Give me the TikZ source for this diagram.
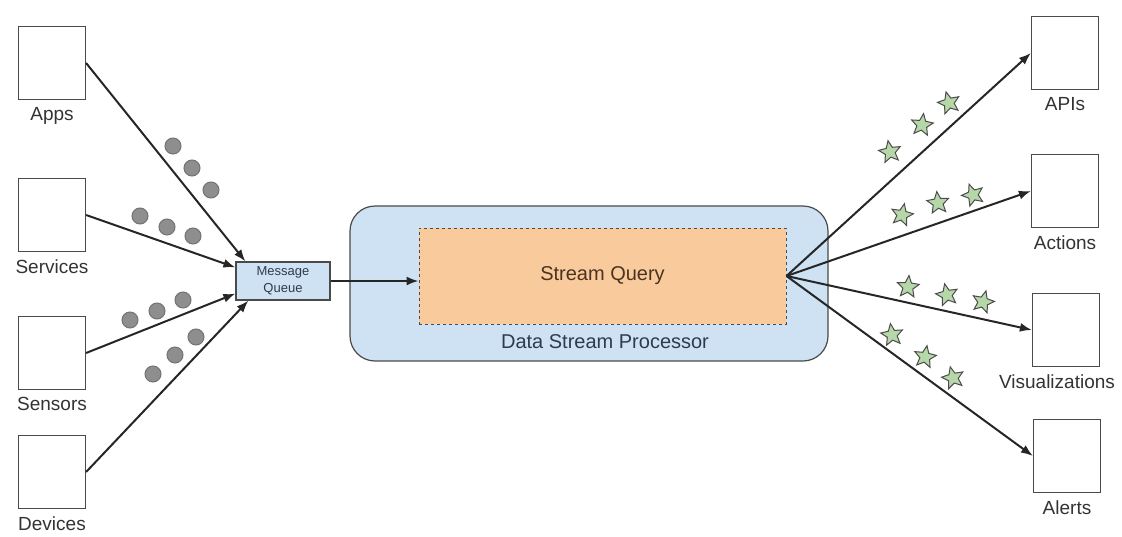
\documentclass[tikz,border=0pt]{standalone}
\usepackage{fontspec}
\setmainfont{Liberation Sans}
\usepackage{xcolor}
\usetikzlibrary{positioning,arrows.meta,calc,shapes.geometric}
\definecolor{ink}{HTML}{333333}
\definecolor{edge}{HTML}{4A4A4A}
\definecolor{dspfill}{HTML}{CFE2F3}
\definecolor{dspink}{HTML}{2E3B4E}
\definecolor{queryfill}{HTML}{F9CB9C}
\definecolor{queryink}{HTML}{4A3320}
\definecolor{dotfill}{HTML}{8E8E8E}
\definecolor{starfill}{HTML}{B6D7A8}

\tikzset{
  srcbox/.style={draw=edge,line width=1.2pt,fill=white,minimum width=67pt,minimum height=73pt,inner sep=0pt},
  tag/.style={text=ink,font=\fontsize{19}{22}\selectfont,inner sep=1pt,label distance=6pt},
  arr/.style={line width=2pt,draw=black!85,-{Latex[length=12pt,width=9pt]}},
  dotmark/.style={circle,draw=black!55,line width=1pt,fill=dotfill,minimum size=16pt,inner sep=0pt},
  starmark/.style={star,star points=5,star point ratio=2.2,draw=black!70,line width=1pt,fill=starfill,minimum size=23pt,inner sep=0pt}
}

\begin{document}
\begin{tikzpicture}[x=1pt,y=-1pt,every node/.style={font=\fontsize{20}{24}\selectfont}]
  \useasboundingbox (0,0) rectangle (1122,536);
  % sources
  \node[srcbox,label={[tag]below:Apps}] (apps) at (52,63) {};
  \node[srcbox,label={[tag]below:Services}] (services) at (52,215) {};
  \node[srcbox,label={[tag]below:Sensors}] (sensors) at (52,353) {};
  \node[srcbox,label={[tag]below:Devices}] (devices) at (52,472) {};
  % queue
  \node[draw=edge,line width=1.2pt,fill=dspfill,minimum width=94pt,minimum height=38pt,inner sep=0pt,
        align=center,text=dspink,font=\fontsize{13}{17}\selectfont] (mq) at (283,281) {Message\\Queue};
  % processor
  \node[draw=edge,line width=1.2pt,fill=dspfill,rounded corners=25pt,minimum width=478pt,minimum height=155pt] (dsp) at (589,283.5) {};
  \node[draw=black!70,dashed,line width=1pt,fill=queryfill,minimum width=367pt,minimum height=96pt,text=queryink] (query) at (602.5,276) {Stream Query};
  \node[text=dspink] (dsplabel) at (605,342) {Data Stream Processor};
  % sinks
  \node[srcbox,label={[tag]below:APIs}] (apis) at (1065,53) {};
  \node[srcbox,label={[tag]below:Actions}] (actions) at (1065,191) {};
  \node[srcbox,label={[tag,xshift=-9pt]below:Visualizations}] (vis) at (1066,330) {};
  \node[srcbox,label={[tag]below:Alerts}] (alerts) at (1067,456) {};

  \draw[arr] (apps.east) -- ([xshift=10pt]mq.north west);
  \draw[arr] (services.east) -- ([yshift=-6pt]mq.north west);
  \draw[arr] (sensors.east) -- ([yshift=7pt]mq.south west);
  \draw[arr] (devices.east) -- ([xshift=13pt]mq.south west);
  \draw[arr] (mq.east) -- (mq.east -| query.west);
  \foreach \t in {apis,actions,vis,alerts}
    \draw[arr] (query.east) -- (\t.west);

  % events in flight
  \foreach \p [count=\i] in {(173,146),(192,168),(211,190),(140,216),(167,227),(193,236),
                             (130,320),(157,311),(183,300),(153,374),(175,355),(196,337)}
    \node[dotmark] (dot\i) at \p {};
  \foreach \p/\r [count=\i] in {(890,152)/10,(922,125)/-8,(949,103)/15,(902,215)/-12,(938,203)/6,(973,195)/20,
                                (908,287)/-5,(947,295)/12,(983,302)/-15,(892,335)/8,(925,357)/-10,(953,378)/14}
    \node[starmark,rotate=\r] (st\i) at \p {};
\end{tikzpicture}
\end{document}
